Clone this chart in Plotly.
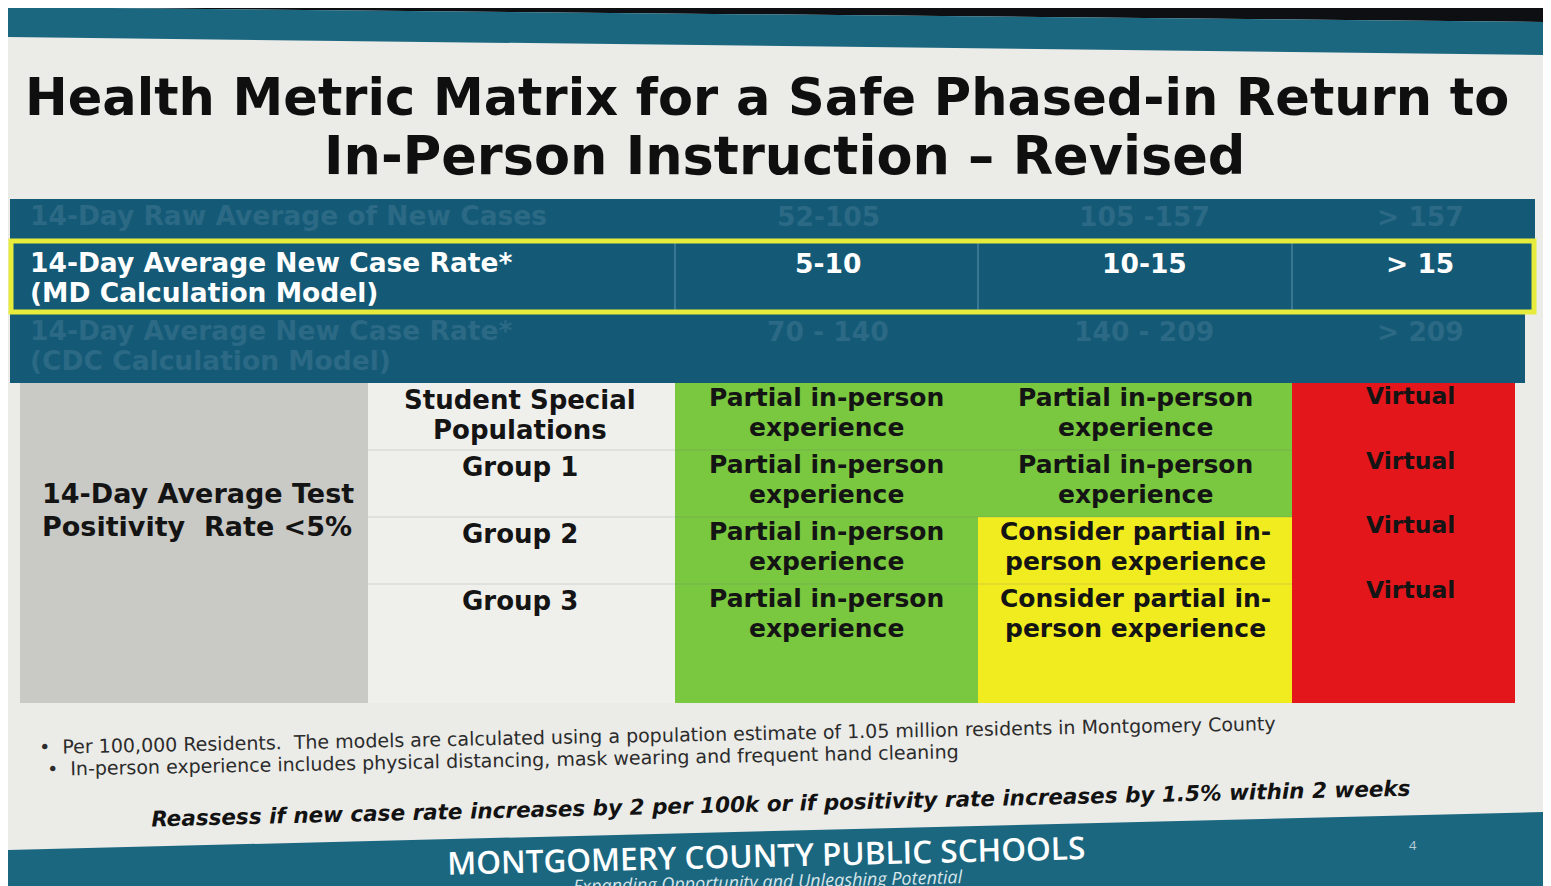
import plotly.graph_objects as go

# ---------------- data (text content of the matrix) ----------------
title_lines = ["Health Metric Matrix for a Safe Phased-in Return to",
               "In-Person Instruction – Revised"]
header_labels = ["14-Day Raw Average of New Cases",
                 "14-Day Average New Case Rate*<br>(MD Calculation Model)",
                 "14-Day Average New Case Rate*<br>(CDC Calculation Model)"]
raw_average_ranges = ["52-105", "105 -157", "> 157"]
md_rate_ranges = ["5-10", "10-15", "> 15"]
cdc_rate_ranges = ["70 - 140", "140 - 209", "> 209"]
metric_label = "14-Day Average Test<br>Positivity  Rate <5%"
groups = ["Student Special<br>Populations", "Group 1", "Group 2", "Group 3"]
status_5_10 = ["Partial in-person<br>experience", "Partial in-person<br>experience",
               "Partial in-person<br>experience", "Partial in-person<br>experience"]
status_10_15 = ["Partial in-person<br>experience", "Partial in-person<br>experience",
                "Consider partial in-<br>person experience", "Consider partial in-<br>person experience"]
status_over_15 = ["Virtual", "Virtual", "Virtual", "Virtual"]
footnotes = ["•  Per 100,000 Residents.  The models are calculated using a population estimate of 1.05 million residents in Montgomery County",
             "•  In-person experience includes physical distancing, mask wearing and frequent hand cleaning"]
reassess_note = "Reassess if new case rate increases by 2 per 100k or if positivity rate increases by 1.5% within 2 weeks"
org_name = "MONTGOMERY COUNTY PUBLIC SCHOOLS"
org_motto = "Expanding Opportunity and Unleashing Potential"
page_number = "4"

# ---------------- layout / styling ----------------
W, H = 1551, 886
OFF = 8  # page body margin: figure origin sits at window pixel (8, 8)
SLIDE_BG = "#ebebe8"
TEAL_BAND = "#1c6780"
HEAD_BG = "#145a76"
FADED = "#2b6985"
GRAY = "#c9c9c6"
WHITE_CELL = "#efefec"
STATUS_COLORS = {"Partial": "#79c83f", "Consider": "#f1ec1f", "Virtual": "#e2161b"}
TXT = "#141414"
BOLD = "DejaVu Sans"

X_EDGES = [20, 368, 675, 978, 1292, 1515]
Y_EDGES = [383, 450, 517, 584, 703]
HEAD_ROWS = [(199, 239), (240, 313), (314, 383)]
HEAD_X0, HEAD_X1 = 10, 1535
VAL_CENTERS = [828, 1144, 1420]

shapes = []
ann = []


def rect(x0, y0, x1, y1, color):
    shapes.append(dict(type="rect", xref="x", yref="y", x0=x0, y0=y0, x1=x1, y1=y1,
                       fillcolor=color, line=dict(color=color, width=0), layer="below"))


def text(x, y, s, size, color=TXT, xanchor="center", yanchor="middle", family=BOLD,
         weight="bold", style="normal", angle=0):
    ann.append(dict(x=x, y=y, xref="x", yref="y", text=s, showarrow=False,
                    xanchor=xanchor, yanchor=yanchor, textangle=angle,
                    font=dict(family=family, size=size, color=color, weight=weight, style=style)))


def lines(x, y_first, s, size, gap, **kw):
    for k, part in enumerate(s.split("<br>")):
        text(x, y_first + k * gap, part, size, **kw)


# outer photo edges
shapes.append(dict(type="path", xref="x", yref="y", path=f"M 0,0 L {W},0 L {W},22 L 0,7 Z",
                   fillcolor="#0d0f12", line=dict(width=0), layer="below"))
shapes.append(dict(type="rect", xref="x", yref="y", x0=1545, y0=0, x1=W, y1=H,
                   fillcolor="#0d0f12", line=dict(width=0), layer="below"))
# top teal band
shapes.append(dict(type="path", xref="x", yref="y", path="M 8,7 L 1545,22 L 1545,55 L 8,37 Z",
                   fillcolor=TEAL_BAND, line=dict(width=0), layer="below"))
# bottom teal band
shapes.append(dict(type="path", xref="x", yref="y", path=f"M 8,850 L 1545,812 L 1545,{H} L 8,{H} Z",
                   fillcolor=TEAL_BAND, line=dict(width=0), layer="below"))

# title
text(767, 97, title_lines[0], 51, color="#0f0f10")
text(784, 155, title_lines[1], 52.5, color="#0f0f10")

# header rows
for k, (y0, y1) in enumerate(HEAD_ROWS):
    rect(HEAD_X0, y0, HEAD_X1 if k < 2 else 1525, y1, HEAD_BG)
header_values = [raw_average_ranges, md_rate_ranges, cdc_rate_ranges]
header_first_line = [215, 262, 330]
for i, (lab, vals) in enumerate(zip(header_labels, header_values)):
    col = "white" if i == 1 else FADED
    yl = header_first_line[i]
    lines(28, yl, lab, 26.5, 30, color=col, xanchor="left")
    for xc, v in zip(VAL_CENTERS, vals):
        text(xc, yl + 1, v, 26.5, color=col)
# dividers in highlighted row
for xd in X_EDGES[2:5]:
    shapes.append(dict(type="line", xref="x", yref="y", x0=xd, x1=xd, y0=242, y1=311,
                       line=dict(color="#5d94ac", width=1)))
# yellow highlight border
shapes.append(dict(type="rect", xref="x", yref="y", x0=11, y0=241, x1=1534, y1=312,
                   line=dict(color="#e6eb3c", width=5), fillcolor="rgba(0,0,0,0)"))

# body: metric column + group column
rect(X_EDGES[0], Y_EDGES[0], X_EDGES[1], Y_EDGES[-1], GRAY)
lines(40, 493, metric_label, 27, 33, xanchor="left")
rect(X_EDGES[1], Y_EDGES[0], X_EDGES[2], Y_EDGES[-1], WHITE_CELL)
for r, g in enumerate(groups):
    lines(520, Y_EDGES[r] + 17, g, 26, 30)

# status columns
status_cols = [status_5_10, status_10_15, status_over_15]
for c, col_vals in enumerate(status_cols):
    x0, x1 = X_EDGES[c + 2], X_EDGES[c + 3]
    for r, s in enumerate(col_vals):
        key = s.split()[0]
        rect(x0, Y_EDGES[r], x1, Y_EDGES[r + 1], STATUS_COLORS[key])
        if key == "Virtual":
            text((x0 + x1) / 2 + 7, Y_EDGES[r] + 13 - 2.5 * r, s, 23.5)
        else:
            lines((x0 + x1) / 2, Y_EDGES[r] + 14, s, 25, 30)

# faint row dividers
for yd in Y_EDGES[1:-1]:
    shapes.append(dict(type="line", xref="x", yref="y", x0=X_EDGES[1], x1=X_EDGES[4], y0=yd, y1=yd,
                       line=dict(color="rgba(120,120,120,0.25)", width=1)))

# footnotes
text(657, 735, footnotes[0], 19, color="#2c2c2c", weight="normal", angle=-1.1)
text(503, 760, footnotes[1], 19, color="#2c2c2c", weight="normal", angle=-1.1)
text(781, 803, reassess_note, 21.5, color="#121212", style="italic", angle=-1.4)

# footer
text(766, 854, org_name, 31.5, color="white", family="Open Sans", weight=600, angle=-1.4)
text(768, 881, org_motto, 18, color="#d8e6ea", family="Open Sans", weight="normal",
     style="italic", angle=-1.4)
text(1413, 845, page_number, 13, color="#b9ccd3", family="Open Sans", weight="normal")

fig = go.Figure(go.Scatter(x=[], y=[]))
fig.update_layout(
    width=W - OFF, height=H - OFF, margin=dict(l=0, r=0, t=0, b=0),
    paper_bgcolor=SLIDE_BG, plot_bgcolor=SLIDE_BG, showlegend=False,
    xaxis=dict(range=[OFF, W], visible=False, fixedrange=True),
    yaxis=dict(range=[H, OFF], visible=False, fixedrange=True),
    shapes=shapes, annotations=ann,
)
fig.write_html("out.html")
